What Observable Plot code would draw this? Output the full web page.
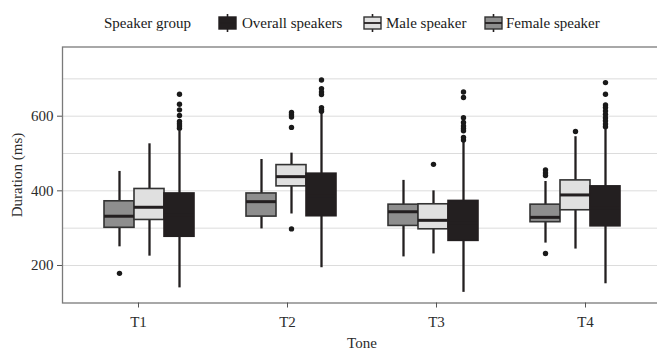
<!DOCTYPE html>
<html><head><meta charset="utf-8">
<script src="https://cdn.jsdelivr.net/npm/d3@7"></script>
<script src="https://cdn.jsdelivr.net/npm/@observablehq/plot@0.6"></script>
<style>
html,body{margin:0;padding:0;background:#fff;overflow:hidden;width:657px;height:354px}
#legend{position:relative;height:36px;font-family:"Liberation Serif",serif;font-size:15px;color:#1a1a1a}
#legend .t{position:absolute;top:13.5px;line-height:19px;white-space:nowrap}
#legend svg.k{position:absolute;top:14px}
#chart{position:relative;width:657px;height:318px;overflow:hidden}
#chart svg{max-width:none;display:block;position:absolute;left:0;top:0}
</style></head><body>
<div id="legend"></div>
<div id="chart"></div>
<script>
// categories
const tones = ["T1", "T2", "T3", "T4"];
const groups = ["Female speaker", "Male speaker", "Overall speakers"];
const groupFills = ["#8e8e8e", "#e0e0e0", "#231f20"];
const groupStrokes = ["#333333", "#333333", "#231f20"];
const legendOrder = ["Overall speakers", "Male speaker", "Female speaker"];
const yTicks = [200, 400, 600];
const yMinor = [300, 500, 700];

// box statistics per tone (T1..T4)
const femaleLow = [250, 298, 223, 260];
const femaleQ1 = [301, 331, 306, 316];
const femaleMedian = [332, 371, 344, 329];
const femaleQ3 = [372, 393, 363, 363];
const femaleHigh = [452, 484, 428, 425];

const maleLow = [225, 338, 231, 244];
const maleQ1 = [322, 412, 297, 348];
const maleMedian = [356, 438, 321, 389];
const maleQ3 = [405, 469, 364, 428];
const maleHigh = [526, 501, 400, 545];

const overallLow = [140, 194, 128, 151];
const overallQ1 = [277, 332, 266, 305];
const overallMedian = [335, 385, 315, 355];
const overallQ3 = [393, 446, 373, 412];
const overallHigh = [561, 610, 530, 565];

// outliers per tone
const femaleOutliers = [[179], [], [], [456, 448, 441, 232]];
const maleOutliers = [[], [610, 604, 598, 570, 298], [471], [559]];
const overallOutliers = [
  [659, 632, 617, 602, 586, 580, 574, 568],
  [697, 674, 665, 658, 623, 617, 613],
  [665, 650, 596, 583, 574, 567, 561, 543, 536],
  [690, 659, 630, 623, 614, 605, 596, 588, 579, 572]
];

const statSets = [
  [femaleLow, femaleQ1, femaleMedian, femaleQ3, femaleHigh, femaleOutliers],
  [maleLow, maleQ1, maleMedian, maleQ3, maleHigh, maleOutliers],
  [overallLow, overallQ1, overallMedian, overallQ3, overallHigh, overallOutliers]
];

const rows = [];
const outRows = [];
tones.forEach((tone, i) => {
  groups.forEach((group, g) => {
    const [lo, q1, md, q3, hi, outs] = statSets[g];
    rows.push({tone, group, low: lo[i], q1: q1[i], median: md[i], q3: q3[i], high: hi[i], edge: groupStrokes[g]});
    outs[i].forEach(v => outRows.push({tone, group, value: v}));
  });
});

// legend
const legend = document.getElementById("legend");
const legendPos = [[218, 242], [362.5, 386], [484, 506]];
const title = document.createElement("span");
title.className = "t"; title.style.left = "104px"; title.textContent = "Speaker group";
legend.appendChild(title);
legendOrder.forEach((name, j) => {
  const gi = groups.indexOf(name);
  const [kx, tx] = legendPos[j];
  const ns = "http://www.w3.org/2000/svg";
  const svg = document.createElementNS(ns, "svg");
  svg.setAttribute("class", "k"); svg.setAttribute("width", 20); svg.setAttribute("height", 18);
  svg.style.left = kx + "px";
  svg.innerHTML = `<line x1="9.5" x2="9.5" y1="0" y2="18" stroke="#231f20" stroke-width="1.6"/>
    <rect x="1" y="3" width="17" height="12" fill="${groupFills[gi]}" stroke="${groupStrokes[gi]}" stroke-width="1.4"/>
    <line x1="1" x2="18" y1="9" y2="9" stroke="#231f20" stroke-width="1.8"/>`;
  legend.appendChild(svg);
  const t = document.createElement("span");
  t.className = "t"; t.style.left = tx + "px"; t.textContent = name;
  legend.appendChild(t);
});

// shared layout
const W = 661, H = 318;
const common = {
  width: W, height: H,
  marginLeft: 62, marginRight: 0, marginTop: 10.5, marginBottom: 51.5,
  y: {domain: [99.5, 785.4], label: "Duration (ms)", labelArrow: "none"}
};
const font = {fontFamily: "'Liberation Serif', serif", fontSize: "15px", color: "#2b2b2b"};

// panel: grid, frame, axes
const panel = Plot.plot({
  ...common,
  style: {...font, background: "#fff"},
  x: {domain: tones, paddingInner: 0, paddingOuter: 0.1, label: "Tone", labelArrow: "none"},
  marks: [
    Plot.gridY(yMinor, {stroke: "#dcdcdc", strokeOpacity: 1, strokeWidth: 1}),
    Plot.gridY(yTicks, {stroke: "#dcdcdc", strokeOpacity: 1, strokeWidth: 1}),
    Plot.frame({stroke: "#7a7a7a", strokeWidth: 1.3}),
    Plot.axisY(yTicks, {anchor: "left", tickSize: 5, tickPadding: 4, label: "Duration (ms)", labelArrow: "none", labelAnchor: "center", labelOffset: 51, stroke: "#555"}),
    Plot.axisX({anchor: "bottom", tickSize: 5, tickPadding: 8, label: "Tone", labelArrow: "none", labelAnchor: "center", labelOffset: 45, stroke: "#555"})
  ]
});

// boxes: faceted by tone, dodged by speaker group
const boxes = Plot.plot({
  ...common,
  style: {...font, background: "transparent"},
  fx: {domain: tones, paddingInner: 0, paddingOuter: 0.1, axis: null},
  x: {domain: groups, paddingInner: 0, paddingOuter: 0.84, axis: null},
  color: {domain: groups, range: groupFills},
  marks: [
    Plot.axisY({ticks: [], label: null}),
    Plot.ruleX(rows, {fx: "tone", x: "group", y1: "low", y2: "high", stroke: "#231f20", strokeWidth: 2.3}),
    Plot.barY(rows, {fx: "tone", x: "group", y1: "q1", y2: "q3", fill: "group", stroke: "edge", strokeWidth: 1.6}),
    Plot.tickY(rows, {fx: "tone", x: "group", y: "median", stroke: "#231f20", strokeWidth: 3}),
    Plot.dot(outRows, {fx: "tone", x: "group", y: "value", r: 2.7, fill: "#1a1a1a", stroke: "none"})
  ]
});

const chart = document.getElementById("chart");
chart.appendChild(panel);
chart.appendChild(boxes);
</script></body></html>
